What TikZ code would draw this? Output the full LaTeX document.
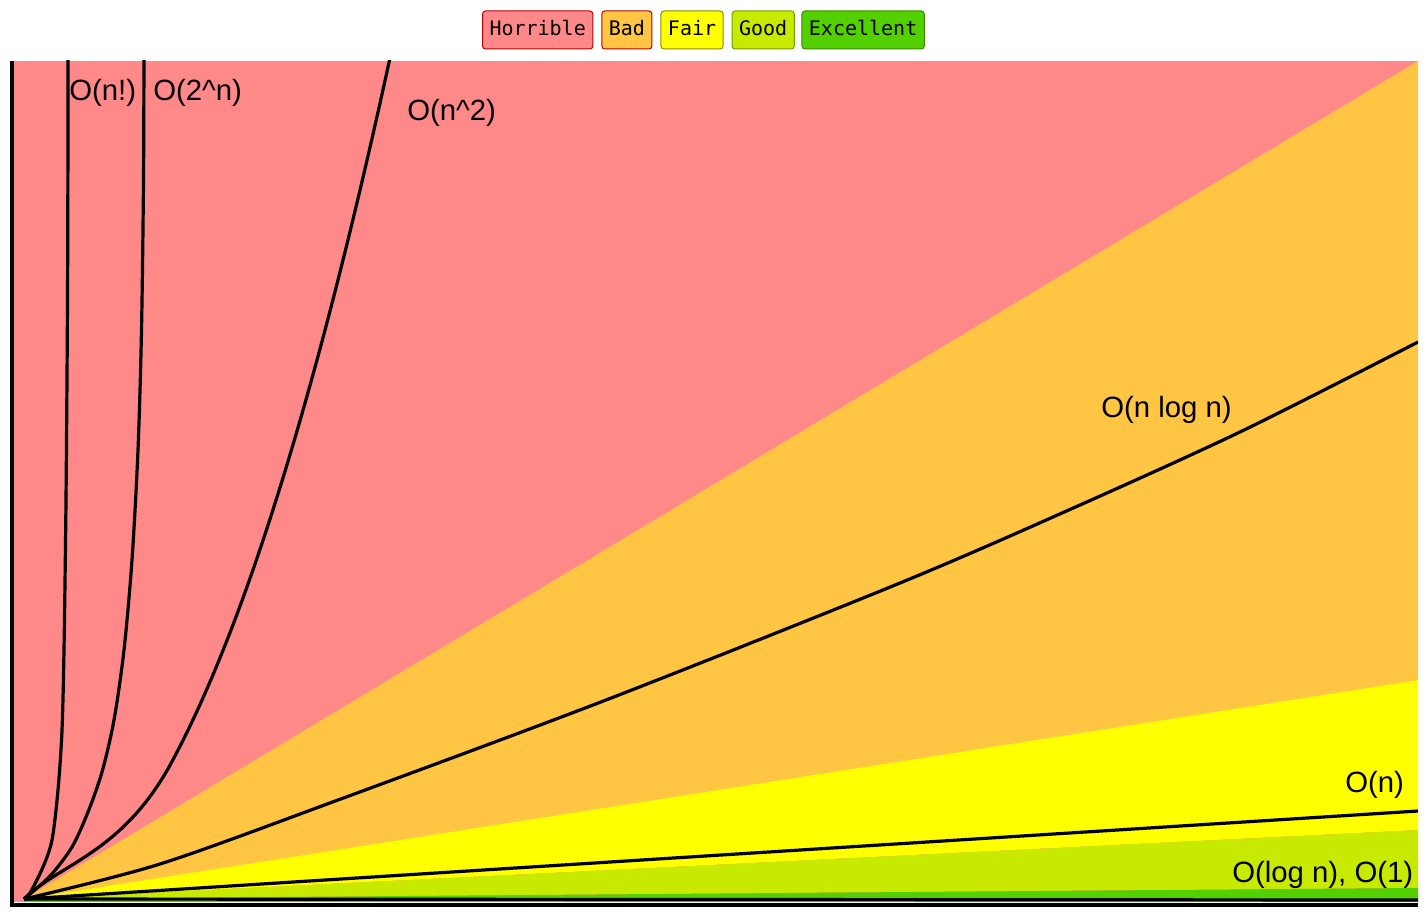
\documentclass[tikz,border=0pt]{standalone}
\usepackage{fontspec}
\setmainfont{Liberation Sans}
\newfontfamily\legendfont{DejaVu Sans Mono}
\usepackage{tikz}
\usetikzlibrary{positioning}
\definecolor{cHorrible}{HTML}{FF8989}
\definecolor{cBad}{HTML}{FFC543}
\definecolor{cFair}{HTML}{FFFF00}
\definecolor{cGood}{HTML}{C8EA00}
\definecolor{cExcellent}{HTML}{53D000}
\definecolor{bRed}{HTML}{BB0000}
\definecolor{bOlive}{HTML}{8A8A00}
\definecolor{bGreen}{HTML}{3A8A00}
\tikzstyle{badge} = [draw,line width=0.75pt,rounded corners=2.25pt,minimum height=28.5pt,inner xsep=5.25pt,text height=11pt,text depth=3pt,font=\legendfont\fontsize{15}{18}\selectfont]
\tikzstyle{bigo} = [line width=2.4pt,line join=round]
\tikzstyle{lbl} = [inner sep=0pt,anchor=base west,font=\fontsize{22}{26}\selectfont]

\begin{document}
\begin{tikzpicture}[x=0.75pt,y=-0.75pt]
\useasboundingbox (0,0) rectangle (1427,917);

% Draw bands
    \def\xl{12}
    \def\xr{1418}
    \def\yt{61}
    \def\yb{902}
    \coordinate (o) at (24,899);
    \fill[cHorrible] (\xl,\yt) rectangle (\xr,\yb);
    \fill[cBad] (o) -- (\xr,\yt) -- (\xr,680) -- cycle;
    \fill[cFair] (o) -- (\xr,680) -- (\xr,830) -- cycle;
    \fill[cGood] (o) -- (\xr,830) -- (\xr,888) -- cycle;
    \fill[cExcellent] (o) -- (\xr,888) -- (\xr,\yb) -- (24,\yb) -- cycle;

% Draw curves
    \begin{scope}
    \clip (\xl,\yt) rectangle (\xr,\yb);
    % O(n!)
    \draw[bigo] plot[smooth] coordinates {(24,899) (30,893) (43,867) (52,840) (58,790) (62,730) (64,650) (66,500) (67.5,300) (68,120) (68,40)};
    % O(2^n)
    \draw[bigo] plot[smooth] coordinates {(24,899) (50,876) (72,847) (88,812) (102,772) (114,720) (124,650) (132,560) (138,450) (141.5,330) (143.5,180) (144,40)};
    % O(n^2)
    \draw[bigo] (o) .. controls (59,864) and (121,854) .. (170,765.2)
        .. controls (218.7,676) and (267.3,542.1) .. (316,363.6)
        .. controls (364.7,185.1) and (413.3,-38) .. (462,-305.6);
    % O(n log n)
    \draw[bigo] plot[smooth] coordinates {(24,899) (160,864) (338,800) (606,700) (900,583) (1071,509) (1242,431) (1418,342)};
    % O(n), O(1)
    \draw[bigo] (o) -- (\xr,811);
    \draw[bigo] (o) -- (\xr,900);
    \end{scope}

% Draw axes
    \draw[line width=3pt] (12,\yt) -- (12,907);
    \draw[line width=3pt] (10,905) -- (\xr,905);

% Labels
    \node[lbl] (lfact) at (69,100) {O(n!)};
    \node[lbl] (lexp) at (153,100) {O(2\textasciicircum n)};
    \node[lbl] (lsq) at (407,120) {O(n\textasciicircum 2)};
    \node[lbl] (lnlogn) at (1101,417) {O(n log n)};
    \node[lbl] (ln) at (1345,792) {O(n)};
    \node[lbl] (llog) at (1232,882) {O(log n), O(1)};

% Legend
    \node[badge,fill=cHorrible,draw=bRed,anchor=west] at (482,30) (horrible) {Horrible};
    \node[badge,fill=cBad,draw=bRed,right=6pt of horrible] (bad) {Bad};
    \node[badge,fill=cFair,draw=bOlive,right=6pt of bad] (fair) {Fair};
    \node[badge,fill=cGood,draw=bOlive!80!green,right=6pt of fair] (good) {Good};
    \node[badge,fill=cExcellent,draw=bGreen,right=5pt of good] (excellent) {Excellent};

\end{tikzpicture}
\end{document}
